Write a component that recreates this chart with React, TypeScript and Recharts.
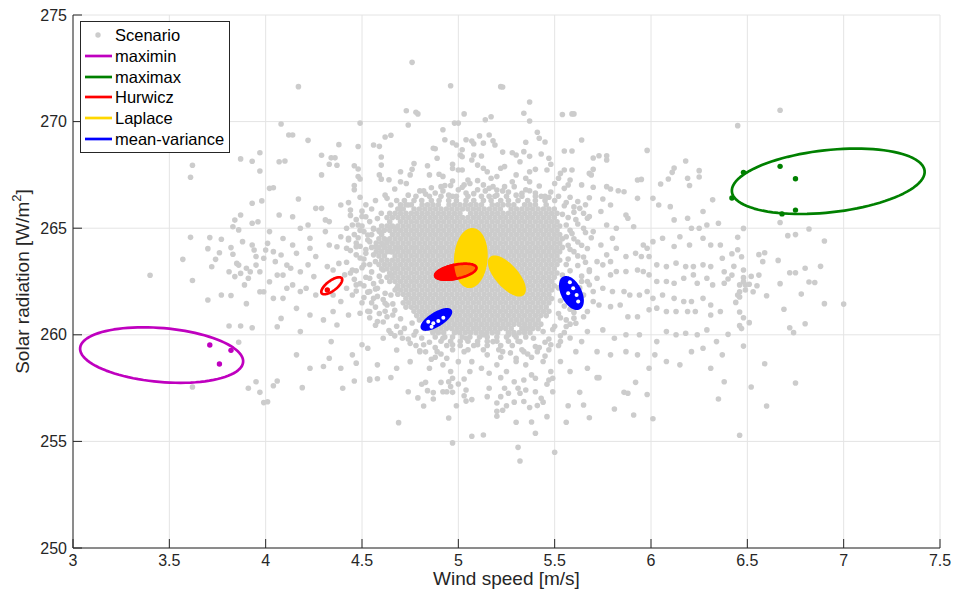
import React from 'react'
import { ScatterChart, Scatter, XAxis, YAxis, CartesianGrid, Legend } from 'recharts'

const FONT = '"Liberation Sans", Arial, Helvetica, sans-serif'
const AXIS = '#262626'
const GRAY = '#cccccc'
const MAGENTA = '#bf00bf'
const GREEN = '#008000'
const RED = '#ff0000'
const GOLD = '#ffd700'
const BLUE = '#0000ff'

const xTicks = [3, 3.5, 4, 4.5, 5, 5.5, 6, 6.5, 7, 7.5]
const yTicks = [250, 255, 260, 265, 270, 275]

// sparse scenarios as [wind, solar]
const outerLeft: [number, number][] = [
  [4.08, 269.89], [3.87, 268.25], [3.93, 268.14], [3.97, 268.54], [3.97, 267.68], [3.62, 267.95], [3.61, 267.39],
  [4.07, 268.12], [4.10, 268.15], [4.02, 266.87], [4.04, 266.9], [4.12, 269.37],
  [3.40, 262.79], [3.61, 264.57], [3.71, 264.56], [3.70, 264.04], [3.57, 263.54], [3.62, 262.55], [3.77, 264.48],
  [3.76, 263.85], [3.74, 263.54], [3.72, 263.19], [3.82, 264.09], [3.83, 263.78], [3.81, 262.96], [3.84, 262.73],
  [3.85, 263.35], [3.86, 263.27], [3.87, 262.88], [3.89, 262.34], [3.90, 263.12], [3.91, 262.65], [3.77, 261.87],
  [3.82, 261.84], [3.70, 261.63], [3.90, 261.46], [3.81, 260.41], [3.87, 260.41], [3.93, 260.33], [3.86, 259.65],
  [3.84, 265.38], [3.87, 265.62], [3.83, 265.07], [3.86, 264.92], [3.93, 266.17], [3.98, 266.28], [3.93, 265.23],
  [3.96, 265.3], [3.88, 264.37], [3.93, 264.21], [3.94, 263.98], [3.95, 263.67], [3.95, 263.27], [3.97, 262.96],
  [3.92, 262.96], [3.99, 263.59], [4.00, 263.98], [4.02, 264.84], [4.01, 264.29], [4.04, 263.9], [4.05, 263.43],
  [4.06, 262.8], [4.02, 262.49], [3.97, 262.02], [3.99, 262.02], [4.04, 261.71], [4.08, 260.77], [4.06, 260.38],
  [4.09, 261.71], [4.11, 262.18], [4.09, 262.8], [4.11, 263.27], [4.08, 263.74], [4.09, 264.52], [4.07, 265.62],
  [3.62, 257.55], [3.91, 257.49], [3.95, 257.8], [3.97, 257.3], [3.99, 256.82], [4.01, 256.86], [4.04, 257.61],
  [4.06, 257.83],
]

const outerTop: [number, number][] = [
  [4.17, 271.64], [4.76, 272.78], [4.96, 271.68], [5.22, 271.64], [5.23, 271.62], [4.73, 270.51], [4.78, 270.44],
  [4.79, 270.36], [4.49, 269.93], [4.74, 269.84], [5.03, 270.36], [4.98, 269.93], [5.00, 269.93], [5.14, 270.09],
  [5.17, 270.23], [4.14, 269.37], [4.22, 269.12], [4.38, 268.92], [4.48, 268.83], [4.56, 268.9], [4.59, 268.84],
  [4.62, 269.28], [4.65, 269.36], [4.29, 268.42], [4.33, 268.0], [4.34, 268.3], [4.36, 268.3], [4.37, 267.95],
  [4.29, 267.5], [4.46, 267.93], [4.48, 267.78], [4.48, 267.42], [4.49, 267.31], [4.46, 267.0], [4.46, 266.8],
  [4.60, 268.34], [4.60, 267.96], [4.59, 267.5], [4.60, 267.3], [4.64, 267.27], [4.70, 267.65], [4.70, 267.18],
  [4.73, 267.1], [4.76, 267.76], [4.77, 268.03], [4.75, 267.5], [4.67, 266.84], [4.82, 266.76], [4.84, 267.93],
  [4.87, 268.75], [4.88, 268.73], [4.89, 268.28], [4.85, 267.5], [4.90, 267.53], [4.92, 269.62], [4.93, 269.15],
  [4.92, 267.43], [4.91, 266.95], [4.93, 267.0], [4.97, 269.01], [4.99, 268.9], [5.02, 268.68], [5.01, 268.43],
  [5.02, 268.35], [4.97, 268.0], [4.97, 267.8], [5.0, 267.73], [5.02, 267.73], [4.97, 267.21], [4.96, 267.0],
  [5.04, 269.15], [5.07, 269.09], [5.08, 268.96], [5.11, 269.33], [5.16, 269.37], [5.18, 269.1], [5.19, 268.9],
  [5.13, 268.99], [5.07, 268.2], [5.08, 268.43], [5.12, 268.39], [5.10, 267.96], [5.13, 267.81], [5.15, 267.65],
  [5.23, 268.57], [5.22, 267.81], [5.24, 267.89], [5.20, 267.42], [5.17, 267.34], [5.05, 267.26], [5.06, 267.1],
  [5.03, 267.03], [5.10, 267.23], [5.13, 267.03], [5.16, 266.87], [5.20, 266.79], [5.24, 266.95],
  [5.37, 270.92], [5.34, 270.39], [5.37, 270.03], [5.54, 270.33], [5.59, 270.36], [5.60, 270.36], [5.41, 269.5],
  [5.42, 269.22], [5.45, 269.04], [5.35, 269.03], [5.64, 269.14], [5.55, 268.62], [5.59, 268.62], [5.70, 268.29],
  [5.73, 268.4], [5.77, 268.4], [5.77, 268.2], [5.98, 268.65], [6.18, 268.15], [6.12, 267.82], [6.11, 267.62],
  [6.09, 267.31], [6.05, 267.07], [6.25, 267.7], [6.25, 267.4], [6.19, 267.34], [6.20, 267.0], [5.93, 267.26],
  [5.95, 267.29], [5.28, 268.54], [5.30, 268.43], [5.34, 268.59], [5.32, 268.12], [5.37, 268.37], [5.43, 268.48],
  [5.47, 268.28], [5.48, 268.0], [5.46, 267.73], [5.40, 267.76], [5.37, 267.65], [5.35, 267.34], [5.30, 267.5],
  [5.28, 267.18], [5.29, 266.95], [5.37, 267.18], [5.42, 266.98], [5.37, 266.76], [5.33, 266.64], [5.53, 267.57],
  [5.52, 267.34], [5.55, 267.73], [5.59, 267.73], [5.58, 267.26], [5.57, 267.03], [5.55, 266.87], [5.50, 267.1],
  [5.64, 267.03], [5.70, 266.92], [5.77, 266.95], [5.79, 266.84], [5.83, 266.76], [5.86, 266.71], [5.68, 267.57],
  [5.69, 267.5], [5.70, 267.76],
]

const outerRight: [number, number][] = [
  [6.45, 269.81], [6.67, 270.53], [6.67, 265.27], [6.48, 264.99], [6.45, 264.57], [6.71, 264.65], [6.75, 264.7],
  [6.82, 264.96], [6.90, 264.4], [6.45, 263.99], [6.47, 263.66], [6.42, 263.8], [6.56, 263.76], [6.59, 263.85],
  [6.58, 263.43], [6.66, 263.49], [6.43, 263.21], [6.48, 263.04], [6.38, 262.96], [6.42, 262.8], [6.40, 262.62],
  [6.80, 263.12], [6.88, 263.21], [6.72, 262.91], [6.75, 262.91], [6.56, 262.8], [6.52, 262.74], [6.48, 262.68],
  [6.48, 262.49], [6.46, 262.34], [6.49, 262.34], [6.51, 262.37], [6.55, 262.3], [6.49, 262.1], [6.46, 262.02],
  [6.45, 261.87], [6.53, 262.02], [6.60, 261.83], [6.67, 262.4], [6.82, 262.48], [6.85, 262.45], [6.78, 261.91],
  [6.44, 261.52], [6.46, 261.77], [6.69, 261.2], [6.90, 261.46], [7.00, 261.44], [6.46, 261.07], [6.48, 260.8],
  [6.51, 260.57], [6.46, 260.43], [6.47, 260.29], [6.72, 260.33], [6.74, 260.1], [6.80, 260.52], [6.40, 260.02],
  [6.48, 259.47], [6.59, 258.64], [6.52, 257.55], [6.75, 257.74], [6.60, 256.66], [6.46, 255.29], [6.38, 257.8],
  [6.35, 256.99],
]

const outerBottom: [number, number][] = [
  [4.19, 257.52], [4.40, 257.49], [4.46, 257.83], [4.54, 257.93], [4.54, 257.87], [4.58, 257.94], [4.65, 258.0],
  [4.74, 257.33], [4.79, 257.04], [4.82, 256.66], [4.69, 255.88], [4.81, 257.68], [4.83, 257.77], [4.84, 257.38],
  [4.87, 257.29], [4.87, 256.99], [4.91, 257.77], [4.92, 257.33], [4.94, 257.33], [4.95, 257.8], [4.96, 257.57],
  [4.97, 257.96], [4.97, 257.3], [4.99, 256.67], [5.00, 257.69], [4.95, 256.1], [4.97, 254.93], [5.03, 257.14],
  [5.04, 257.41], [5.07, 256.96], [5.03, 257.93], [5.04, 256.89], [5.07, 255.24], [5.13, 255.3], [5.15, 257.1],
  [5.16, 257.49], [5.20, 256.8], [5.20, 256.41], [5.20, 256.18], [5.23, 256.46], [5.22, 257.1], [5.24, 257.49],
  [5.26, 257.26], [5.22, 257.99], [5.25, 256.67], [5.29, 257.8], [5.31, 257.49], [5.34, 257.88], [5.35, 257.41],
  [5.32, 257.26], [5.40, 257.96], [5.40, 257.33], [5.43, 257.02], [5.44, 256.84], [5.41, 256.68], [5.37, 256.59],
  [5.34, 256.87], [5.29, 256.84], [5.47, 257.88], [5.46, 257.68], [5.49, 257.33], [5.49, 257.96], [5.30, 255.9],
  [5.38, 255.91], [5.46, 256.16], [5.40, 255.38], [5.31, 254.72], [5.32, 254.08], [5.50, 254.49], [5.56, 255.9],
  [5.57, 256.67], [5.63, 257.3], [5.65, 256.71], [5.68, 256.11], [5.72, 257.99], [5.73, 257.99], [5.81, 256.52],
  [5.86, 257.3], [5.88, 257.26], [5.91, 256.24], [5.92, 257.77], [5.98, 257.2], [6.01, 256.06],
]

const midLeft: [number, number][] = [
  [4.17, 266.37], [4.26, 265.93], [4.29, 265.93], [4.39, 266.09], [4.44, 265.85], [4.52, 265.54], [4.48, 265.15],
  [4.54, 265.31], [4.63, 266.4], [4.65, 266.09], [4.60, 265.7], [4.70, 265.93], [4.74, 266.09], [4.14, 265.54],
  [4.18, 265.0], [4.22, 265.15], [4.23, 264.53], [4.31, 265.39], [4.33, 265.31], [4.31, 264.84], [4.39, 264.6],
  [4.43, 264.53], [4.45, 265.15], [4.51, 264.84], [4.53, 264.68], [4.56, 265.0], [4.59, 264.84], [4.65, 265.07],
  [4.68, 265.0], [4.63, 264.37], [4.14, 264.21], [4.16, 263.82], [4.23, 264.06], [4.26, 263.67], [4.33, 264.21],
  [4.37, 264.13], [4.42, 264.06], [4.47, 264.13], [4.52, 263.82], [4.54, 264.37], [4.57, 264.13], [4.61, 264.21],
  [4.65, 263.9], [4.68, 264.06], [4.13, 263.12], [4.18, 262.96], [4.22, 263.28], [4.25, 262.73], [4.32, 263.2],
  [4.35, 263.04], [4.38, 263.35], [4.41, 262.81], [4.45, 263.04], [4.51, 263.28], [4.54, 262.65], [4.57, 263.43],
  [4.61, 263.04], [4.65, 262.81], [4.68, 263.12], [4.14, 262.34], [4.18, 262.03], [4.21, 262.18], [4.26, 261.87],
  [4.35, 261.87], [4.39, 261.56], [4.42, 262.18], [4.45, 261.87], [4.47, 262.34], [4.54, 262.03], [4.56, 261.71],
  [4.58, 262.18], [4.62, 261.48], [4.65, 261.87], [4.68, 262.18], [4.16, 261.24], [4.23, 260.93], [4.30, 260.7],
  [4.35, 261.09], [4.37, 260.46], [4.43, 260.93], [4.49, 261.01], [4.54, 261.09], [4.58, 260.62], [4.63, 261.4],
  [4.66, 260.93], [4.18, 260.15], [4.34, 259.68], [4.50, 259.53], [4.53, 259.37], [4.61, 259.84], [4.65, 260.07],
  [4.68, 259.29], [4.71, 259.84], [4.77, 259.99], [4.80, 259.21], [4.75, 258.74], [4.68, 258.43], [4.58, 258.59],
  [4.45, 259.06], [4.47, 258.67], [4.39, 258.43], [4.30, 258.51], [4.33, 258.9], [4.23, 258.43], [4.16, 259.06],
]

const midRight: [number, number][] = [
  [5.68, 266.43], [5.75, 266.37], [5.79, 266.09], [5.87, 265.62], [5.88, 265.47], [5.91, 265.07], [5.93, 266.4],
  [6.01, 266.4], [6.04, 266.09], [6.10, 266.01], [6.12, 265.39], [6.19, 265.47], [6.27, 265.78], [6.32, 266.33],
  [6.21, 265.0], [6.25, 265.0], [6.29, 265.15], [6.35, 265.23], [5.82, 265.0], [5.96, 264.21], [5.98, 264.06],
  [6.01, 264.37], [6.06, 264.53], [6.12, 264.14], [6.15, 264.6], [6.20, 264.21], [6.27, 264.53], [6.31, 264.21],
  [6.36, 264.21], [5.87, 263.67], [5.92, 263.82], [5.95, 263.67], [5.99, 263.67], [6.03, 263.28], [6.08, 263.2],
  [6.13, 263.36], [6.18, 263.2], [6.22, 263.2], [6.27, 263.28], [6.31, 263.2], [6.37, 263.59], [5.79, 262.81],
  [5.82, 262.97], [5.87, 262.97], [5.93, 263.04], [5.96, 262.97], [5.99, 262.81], [6.03, 262.5], [6.08, 262.5],
  [6.12, 262.42], [6.17, 262.65], [6.22, 262.81], [6.24, 262.42], [6.29, 262.65], [6.32, 262.34], [6.38, 262.42],
  [5.75, 262.18], [5.80, 262.03], [5.86, 262.03], [5.89, 261.87], [5.94, 261.87], [5.98, 262.03], [6.01, 261.71],
  [6.06, 261.87], [6.12, 261.71], [6.17, 261.56], [6.21, 261.56], [6.27, 261.71], [6.31, 261.4], [5.70, 261.56],
  [5.73, 261.4], [5.79, 261.32], [5.84, 261.4], [5.88, 260.85], [5.93, 260.85], [5.99, 261.17], [6.03, 261.25],
  [6.08, 261.09], [6.13, 261.09], [6.19, 261.09], [6.23, 261.09], [6.31, 260.93], [6.36, 261.09], [5.75, 260.23],
  [5.81, 259.84], [5.87, 260.0], [5.94, 260.0], [6.03, 259.68], [6.08, 260.15], [6.13, 260.0], [6.18, 260.07],
  [6.24, 260.0], [6.29, 260.23], [6.34, 259.68], [5.79, 259.06], [5.87, 259.21], [5.93, 259.06], [5.99, 258.43],
  [6.02, 259.06], [6.08, 258.75], [6.15, 258.59], [6.21, 259.21], [6.27, 259.37], [6.37, 259.06], [6.31, 258.43],
  [5.63, 265.93], [5.67, 265.47], [5.70, 264.84], [5.74, 264.21], [5.77, 263.75], [5.72, 263.43], [5.68, 262.97],
  [5.75, 263.28], [5.79, 263.43], [5.82, 264.06], [5.80, 264.53], [5.77, 265.15], [5.74, 265.78], [5.67, 262.5],
  [5.70, 262.03], [5.65, 261.87], [5.61, 261.4], [5.67, 261.09], [5.60, 260.78], [5.72, 262.65],
]

const midBottom: [number, number][] = [
  [4.82, 259.53], [4.87, 260.15], [4.89, 259.21], [4.92, 259.84], [4.94, 258.9], [4.97, 259.53], [4.99, 260.15],
  [5.03, 259.21], [5.04, 259.84], [5.07, 258.74], [5.10, 259.53], [5.13, 260.0], [5.15, 259.06], [5.18, 259.68],
  [5.20, 258.59], [5.23, 259.21], [5.26, 260.0], [4.85, 258.43], [4.96, 258.28], [5.06, 258.28], [5.16, 258.2],
  [5.25, 258.28], [5.00, 258.74], [5.12, 258.43], [4.92, 258.59], [5.29, 260.0], [5.32, 259.68], [5.35, 260.31],
  [5.39, 259.84], [5.34, 259.21], [5.41, 259.21], [5.44, 260.15], [5.48, 259.53], [5.53, 259.68], [5.56, 260.39],
  [5.61, 260.54], [5.64, 259.68], [5.67, 260.15], [5.72, 259.21], [5.61, 259.21], [5.53, 258.75], [5.44, 258.75],
  [5.35, 258.59], [5.30, 258.75], [5.67, 258.43], [5.58, 258.28], [5.48, 258.28], [5.38, 258.12],
]

// the thinner ring just outside the dense centre
const fringe: [number, number][] = [
  [4.50, 265.8], [4.47, 265.4], [4.55, 265.9], [4.49, 264.9], [4.55, 264.7], [4.47, 264.3], [4.52, 264.0],
  [4.49, 263.6], [4.54, 263.3], [4.47, 263.0], [4.52, 262.7], [4.56, 262.4], [4.49, 262.4], [4.53, 262.0],
  [4.58, 261.8], [4.50, 261.5], [4.57, 261.3], [4.62, 261.1], [4.54, 260.8], [4.61, 260.6], [4.68, 260.4],
  [4.64, 260.2], [4.70, 260.1], [4.74, 259.8], [4.78, 259.5], [4.83, 259.2], [4.88, 258.95],
  [5.56, 266.2], [5.60, 266.0], [5.65, 265.7], [5.57, 265.5], [5.62, 265.2], [5.58, 264.9], [5.66, 264.8],
  [5.60, 264.5], [5.64, 264.2], [5.58, 264.0], [5.62, 263.7], [5.56, 263.3], [5.66, 263.4], [5.54, 262.8],
  [5.64, 262.5], [5.52, 262.2], [5.63, 262.2], [5.53, 261.6], [5.58, 261.2], [5.52, 261.0], [5.56, 260.7],
  [5.50, 260.4], [5.55, 260.1], [5.47, 259.8], [5.52, 259.5], [5.42, 259.4], [5.36, 259.1], [5.45, 259.0],
  [5.30, 258.9], [4.80, 266.75], [4.88, 266.65], [5.00, 266.8], [5.08, 266.62], [5.14, 266.75], [5.26, 266.7],
  [5.40, 266.65], [5.47, 266.45], [4.95, 266.55], [5.20, 266.55],
  [4.43, 266.2], [4.49, 266.45], [4.52, 266.1], [4.57, 266.3], [4.44, 265.6], [4.50, 265.55], [4.58, 265.45],
  [4.42, 265.0], [4.46, 264.7], [4.50, 265.1], [4.56, 264.95], [4.43, 264.45], [4.48, 264.55], [4.53, 264.45],
  [4.44, 263.95], [4.49, 264.15], [4.55, 264.1], [4.42, 263.4], [4.47, 263.75], [4.51, 263.55], [4.56, 263.75],
  [4.44, 262.9], [4.50, 263.15], [4.55, 262.95], [4.59, 262.75], [4.46, 262.6], [4.51, 262.3], [4.60, 262.5],
  [4.47, 262.05], [4.57, 262.15], [4.62, 261.95], [4.51, 261.75], [4.55, 261.5], [4.61, 261.65], [4.66, 261.45],
  [4.53, 261.1], [4.59, 261.0], [4.67, 261.15], [4.70, 260.75], [4.63, 260.85], [4.57, 260.45], [4.72, 260.3],
  [4.76, 260.55], [4.78, 260.15], [4.67, 259.95], [4.81, 259.85], [4.75, 259.6], [4.85, 259.65], [4.88, 259.4],
  [4.80, 259.25], [4.91, 259.1], [4.86, 258.85],
  [5.52, 266.5], [5.58, 266.45], [5.62, 266.25], [5.55, 266.05], [5.66, 266.1], [5.60, 265.75], [5.54, 265.65],
  [5.68, 265.55], [5.61, 265.4], [5.56, 265.15], [5.65, 265.0], [5.59, 264.75], [5.69, 264.55], [5.56, 264.6],
  [5.62, 264.35], [5.67, 264.05], [5.57, 264.2], [5.60, 263.9], [5.65, 263.65], [5.57, 263.55], [5.62, 263.25],
  [5.68, 263.05], [5.58, 263.0], [5.64, 262.75], [5.54, 262.55], [5.68, 262.35], [5.55, 262.05], [5.63, 261.75],
  [5.55, 261.35], [5.60, 261.05], [5.65, 260.85], [5.53, 260.8], [5.58, 260.5], [5.49, 260.25], [5.53, 259.95],
  [5.45, 259.65], [5.58, 259.85], [5.40, 259.45], [5.33, 259.3], [5.47, 259.3], [5.27, 259.15], [5.38, 258.95],
  [5.22, 258.95], [4.74, 266.55], [4.83, 266.6], [4.92, 266.75], [4.97, 266.5], [5.04, 266.65], [5.10, 266.8],
  [5.16, 266.5], [5.23, 266.75], [5.30, 266.55], [5.35, 266.8], [5.43, 266.5], [5.48, 266.7], [4.68, 266.3],
  [4.62, 266.55], [4.86, 266.9], [5.02, 266.92], [5.18, 266.95],
]

// the dense centre of the cloud, row by row: [solar, winds in that row]
const coreRows: [number, number[]][] = [
  [266.5, [4.78, 4.85, 4.91, 4.99, 5.05, 5.12, 5.19, 5.25, 5.33, 5.4, 5.45]],
  [266.3, [4.72, 4.77, 4.81, 4.86, 4.9, 4.95, 4.99, 5.04, 5.08, 5.13, 5.17, 5.22, 5.26, 5.31, 5.36, 5.4, 5.45, 5.5]],
  [266.1, [4.7, 4.728, 4.756, 4.812, 4.84, 4.868, 4.896, 4.952, 4.98, 5.008, 5.036, 5.064, 5.092, 5.12, 5.176, 5.204, 5.232, 5.26, 5.288, 5.344, 5.372, 5.4, 5.456]],
  [265.9, [4.686, 4.714, 4.77, 4.798, 4.826, 4.854, 4.882, 4.91, 4.938, 4.966, 4.994, 5.022, 5.05, 5.078, 5.106, 5.134, 5.162, 5.19, 5.218, 5.274, 5.302, 5.33, 5.358, 5.386, 5.414, 5.442, 5.47, 5.498]],
  [265.7, [4.644, 4.672, 4.7, 4.728, 4.756, 4.784, 4.812, 4.84, 4.868, 4.896, 4.924, 4.952, 4.98, 5.008, 5.064, 5.092, 5.12, 5.148, 5.176, 5.204, 5.232, 5.26, 5.288, 5.316, 5.344, 5.372, 5.4, 5.428, 5.456, 5.484, 5.512]],
  [265.5, [4.63, 4.658, 4.686, 4.714, 4.742, 4.77, 4.798, 4.826, 4.854, 4.882, 4.91, 4.938, 4.966, 4.994, 5.022, 5.05, 5.078, 5.106, 5.134, 5.162, 5.19, 5.218, 5.246, 5.274, 5.302, 5.33, 5.358, 5.386, 5.414, 5.442, 5.47, 5.498]],
  [265.3, [4.644, 4.7, 4.728, 4.756, 4.784, 4.812, 4.84, 4.868, 4.896, 4.924, 4.952, 4.98, 5.008, 5.036, 5.064, 5.092, 5.12, 5.148, 5.176, 5.204, 5.232, 5.26, 5.288, 5.316, 5.344, 5.372, 5.4, 5.428, 5.456, 5.484, 5.512]],
  [265.1, [4.602, 4.63, 4.658, 4.686, 4.714, 4.742, 4.77, 4.798, 4.826, 4.854, 4.882, 4.91, 4.938, 4.966, 4.994, 5.022, 5.05, 5.078, 5.106, 5.134, 5.162, 5.19, 5.218, 5.246, 5.274, 5.302, 5.33, 5.358, 5.386, 5.414, 5.442, 5.47, 5.498, 5.526]],
  [264.9, [4.588, 4.616, 4.644, 4.672, 4.7, 4.728, 4.756, 4.784, 4.812, 4.84, 4.868, 4.896, 4.924, 4.952, 4.98, 5.008, 5.036, 5.064, 5.092, 5.12, 5.148, 5.176, 5.204, 5.232, 5.26, 5.288, 5.316, 5.344, 5.372, 5.4, 5.428, 5.456, 5.484, 5.512]],
  [264.7, [4.602, 4.658, 4.686, 4.714, 4.742, 4.77, 4.798, 4.826, 4.854, 4.882, 4.91, 4.938, 4.966, 4.994, 5.022, 5.05, 5.078, 5.106, 5.134, 5.162, 5.19, 5.218, 5.246, 5.274, 5.302, 5.33, 5.358, 5.386, 5.414, 5.442, 5.47, 5.498, 5.526]],
  [264.5, [4.588, 4.616, 4.644, 4.672, 4.7, 4.728, 4.756, 4.784, 4.812, 4.84, 4.868, 4.896, 4.924, 4.952, 4.98, 5.008, 5.036, 5.064, 5.092, 5.12, 5.148, 5.176, 5.204, 5.232, 5.26, 5.288, 5.316, 5.344, 5.372, 5.4, 5.428, 5.456, 5.484, 5.512, 5.54]],
  [264.3, [4.574, 4.602, 4.63, 4.658, 4.686, 4.714, 4.742, 4.77, 4.798, 4.826, 4.854, 4.882, 4.91, 4.938, 4.966, 4.994, 5.022, 5.05, 5.078, 5.106, 5.134, 5.162, 5.19, 5.218, 5.246, 5.274, 5.302, 5.33, 5.358, 5.386, 5.414, 5.442, 5.47, 5.498, 5.526]],
  [264.1, [4.588, 4.616, 4.644, 4.672, 4.7, 4.728, 4.756, 4.784, 4.812, 4.84, 4.868, 4.896, 4.924, 4.952, 4.98, 5.008, 5.036, 5.064, 5.092, 5.12, 5.148, 5.176, 5.204, 5.232, 5.26, 5.288, 5.316, 5.344, 5.372, 5.4, 5.428, 5.456, 5.484, 5.512, 5.54]],
  [263.9, [4.574, 4.602, 4.63, 4.658, 4.686, 4.714, 4.742, 4.77, 4.798, 4.826, 4.854, 4.882, 4.91, 4.938, 4.966, 4.994, 5.022, 5.05, 5.078, 5.106, 5.134, 5.162, 5.19, 5.218, 5.246, 5.274, 5.302, 5.33, 5.358, 5.386, 5.414, 5.442, 5.47, 5.498, 5.526]],
  [263.7, [4.588, 4.616, 4.672, 4.7, 4.728, 4.756, 4.784, 4.812, 4.84, 4.868, 4.896, 4.924, 4.952, 4.98, 5.008, 5.036, 5.064, 5.092, 5.12, 5.148, 5.176, 5.204, 5.232, 5.26, 5.288, 5.316, 5.344, 5.372, 5.4, 5.428, 5.456, 5.484, 5.512]],
  [263.5, [4.602, 4.63, 4.658, 4.686, 4.714, 4.742, 4.77, 4.798, 4.826, 4.854, 4.882, 4.91, 4.938, 4.966, 4.994, 5.022, 5.05, 5.078, 5.106, 5.134, 5.162, 5.19, 5.218, 5.246, 5.274, 5.302, 5.33, 5.358, 5.386, 5.414, 5.442, 5.47, 5.498, 5.526]],
  [263.3, [4.588, 4.616, 4.644, 4.672, 4.7, 4.728, 4.756, 4.784, 4.812, 4.84, 4.868, 4.896, 4.924, 4.952, 4.98, 5.008, 5.036, 5.064, 5.092, 5.12, 5.148, 5.176, 5.204, 5.232, 5.26, 5.288, 5.316, 5.344, 5.372, 5.4, 5.428, 5.456, 5.484, 5.512]],
  [263.1, [4.602, 4.63, 4.658, 4.686, 4.714, 4.742, 4.77, 4.798, 4.826, 4.854, 4.882, 4.91, 4.938, 4.966, 4.994, 5.022, 5.05, 5.078, 5.106, 5.134, 5.162, 5.19, 5.218, 5.246, 5.274, 5.302, 5.33, 5.358, 5.386, 5.414, 5.442, 5.47, 5.498]],
  [262.9, [4.644, 4.672, 4.7, 4.728, 4.756, 4.784, 4.812, 4.84, 4.868, 4.896, 4.924, 4.952, 4.98, 5.008, 5.036, 5.064, 5.092, 5.12, 5.148, 5.176, 5.204, 5.232, 5.26, 5.288, 5.316, 5.344, 5.372, 5.4, 5.428, 5.456, 5.484, 5.512]],
  [262.7, [4.63, 4.658, 4.686, 4.714, 4.742, 4.77, 4.798, 4.826, 4.854, 4.882, 4.91, 4.938, 4.966, 4.994, 5.022, 5.05, 5.078, 5.106, 5.134, 5.162, 5.19, 5.218, 5.246, 5.274, 5.302, 5.33, 5.358, 5.386, 5.414, 5.442, 5.47, 5.498]],
  [262.5, [4.644, 4.672, 4.7, 4.728, 4.756, 4.784, 4.812, 4.84, 4.868, 4.896, 4.924, 4.952, 4.98, 5.008, 5.036, 5.064, 5.092, 5.12, 5.148, 5.176, 5.204, 5.232, 5.26, 5.288, 5.316, 5.344, 5.372, 5.4, 5.428, 5.456, 5.484]],
  [262.3, [4.686, 4.714, 4.742, 4.77, 4.798, 4.826, 4.854, 4.882, 4.91, 4.938, 4.966, 4.994, 5.022, 5.05, 5.078, 5.106, 5.134, 5.162, 5.19, 5.218, 5.246, 5.274, 5.302, 5.33, 5.358, 5.386, 5.414, 5.442, 5.47, 5.498]],
  [262.1, [4.672, 4.7, 4.728, 4.756, 4.784, 4.812, 4.84, 4.868, 4.896, 4.924, 4.952, 4.98, 5.008, 5.036, 5.064, 5.092, 5.12, 5.148, 5.176, 5.204, 5.232, 5.26, 5.288, 5.316, 5.344, 5.372, 5.4, 5.428, 5.456, 5.484]],
  [261.9, [4.686, 4.714, 4.742, 4.77, 4.798, 4.826, 4.854, 4.882, 4.91, 4.938, 4.966, 4.994, 5.022, 5.05, 5.078, 5.106, 5.134, 5.162, 5.19, 5.218, 5.246, 5.274, 5.302, 5.33, 5.358, 5.386, 5.414, 5.442, 5.47]],
  [261.7, [4.728, 4.756, 4.784, 4.812, 4.84, 4.868, 4.896, 4.924, 4.952, 4.98, 5.008, 5.036, 5.064, 5.092, 5.12, 5.148, 5.176, 5.204, 5.232, 5.26, 5.288, 5.316, 5.344, 5.372, 5.4, 5.428, 5.456, 5.484]],
  [261.5, [4.714, 4.742, 4.77, 4.798, 4.826, 4.854, 4.882, 4.91, 4.938, 4.966, 4.994, 5.022, 5.05, 5.078, 5.106, 5.134, 5.162, 5.19, 5.218, 5.246, 5.274, 5.302, 5.33, 5.358, 5.386, 5.414, 5.442, 5.47]],
  [261.3, [4.728, 4.756, 4.784, 4.812, 4.84, 4.868, 4.896, 4.924, 4.952, 4.98, 5.008, 5.036, 5.064, 5.092, 5.12, 5.148, 5.176, 5.204, 5.232, 5.26, 5.288, 5.316, 5.344, 5.372, 5.4, 5.428, 5.456]],
  [261.1, [4.77, 4.798, 4.826, 4.854, 4.882, 4.91, 4.938, 4.966, 4.994, 5.022, 5.05, 5.078, 5.106, 5.134, 5.162, 5.19, 5.218, 5.246, 5.274, 5.302, 5.33, 5.358, 5.386, 5.414, 5.442, 5.47]],
  [260.9, [4.784, 4.812, 4.84, 4.868, 4.896, 4.924, 4.952, 4.98, 5.008, 5.036, 5.064, 5.092, 5.12, 5.148, 5.176, 5.204, 5.232, 5.26, 5.288, 5.316, 5.344, 5.372, 5.4, 5.428, 5.456]],
  [260.7, [4.798, 4.826, 4.854, 4.882, 4.91, 4.938, 4.966, 4.994, 5.022, 5.05, 5.078, 5.106, 5.134, 5.162, 5.19, 5.218, 5.246, 5.274, 5.302, 5.33, 5.358, 5.386, 5.414]],
  [260.5, [4.84, 4.868, 4.896, 4.924, 4.952, 4.98, 5.008, 5.036, 5.064, 5.092, 5.12, 5.148, 5.176, 5.204, 5.232, 5.26, 5.288, 5.316, 5.344, 5.372, 5.4, 5.428]],
  [260.3, [4.826, 4.854, 4.882, 4.91, 4.938, 4.966, 4.994, 5.022, 5.05, 5.078, 5.106, 5.134, 5.162, 5.19, 5.218, 5.246, 5.274, 5.33, 5.358, 5.386, 5.414]],
  [260.1, [4.868, 4.896, 4.924, 4.98, 5.008, 5.036, 5.064, 5.092, 5.12, 5.148, 5.176, 5.204, 5.26, 5.288, 5.316, 5.344, 5.372]],
  [259.9, [4.88, 4.93, 4.97, 5.02, 5.06, 5.11, 5.15, 5.2, 5.25, 5.3, 5.35]],
  [259.7, [4.91, 4.96, 5.01, 5.05, 5.1, 5.15, 5.2, 5.26, 5.31]],
  [259.5, [4.94, 5.01, 5.08, 5.15, 5.22, 5.28]],
  [259.3, [4.97, 5.05, 5.13, 5.21]],
]

// selected scenarios drawn in the criterion colour
const maximinPicks: [number, number][] = [[3.71, 259.52], [3.82, 259.27], [3.76, 258.63]]
const maximaxPicks: [number, number][] = [[6.48, 267.62], [6.67, 267.9], [6.75, 267.32], [6.42, 266.42], [6.68, 265.67], [6.75, 265.85]]
const hurwiczPicks: [number, number][] = [[4.32, 262.1]]
// blank specks left inside the mean-variance ellipses
const mvSpecks: [number, number][] = [
  [4.844, 260.61], [4.87, 260.54], [4.896, 260.65], [4.922, 260.8], [4.861, 260.38],
  [5.579, 262.46], [5.596, 262.18], [5.57, 261.95], [5.614, 261.87], [5.622, 261.56],
]

// confidence ellipses: centre, and the two half-axis vectors in data units
type Ell = { name: string; c: [number, number]; u: [number, number]; v: [number, number]; stroke: string; fill: string; alpha?: number }
const hurwiczBig = { c: [4.987, 262.96] as [number, number], u: [0.107, 0.197] as [number, number], v: [0.0072, -0.32] as [number, number] }
const ellipses: Ell[] = [
  { name: 'maximin', c: [3.46, 259.05], u: [0.423, -0.33], v: [-0.012, -1.26], stroke: MAGENTA, fill: 'none' },
  { name: 'maximax', c: [6.92, 267.2], u: [0.5, 0.5], v: [0.02, -1.45], stroke: GREEN, fill: 'none' },
  { name: 'laplace-b', c: [5.252, 262.76], u: [0.083, -0.844], v: [-0.039, -0.314], stroke: GOLD, fill: GOLD },
  { name: 'hurwicz-b', ...hurwiczBig, stroke: RED, fill: RED },
  { name: 'laplace-a', c: [5.065, 263.6], u: [0.0104, 1.346], v: [0.08, -0.05], stroke: GOLD, fill: GOLD },
  { name: 'hurwicz-b-over', ...hurwiczBig, stroke: RED, fill: RED, alpha: 0.45 },
  { name: 'hurwicz-a', c: [4.343, 262.3], u: [0.0519, 0.352], v: [0.0156, -0.188], stroke: RED, fill: '#ffffff' },
  { name: 'mv-a', c: [4.886, 260.72], u: [0.0737, 0.408], v: [0.016, -0.24], stroke: BLUE, fill: BLUE },
  { name: 'mv-b', c: [5.587, 261.96], u: [0.04, -0.71], v: [0.0415, 0.19], stroke: BLUE, fill: BLUE },
]

const legendItems = [
  { label: 'Scenario', color: GRAY, dot: true },
  { label: 'maximin', color: MAGENTA, dot: false },
  { label: 'maximax', color: GREEN, dot: false },
  { label: 'Hurwicz', color: RED, dot: false },
  { label: 'Laplace', color: GOLD, dot: false },
  { label: 'mean-variance', color: BLUE, dot: false },
]

const toPts = (arr: [number, number][]) => arr.map(([x, y]) => ({ x, y }))

const scenarios = [
  ...toPts(outerLeft), ...toPts(outerTop), ...toPts(outerRight), ...toPts(outerBottom),
  ...toPts(midLeft), ...toPts(midRight), ...toPts(midBottom), ...toPts(fringe),
  ...coreRows.flatMap(([y, xs]) => xs.map((x) => ({ x, y }))),
]

function outline(e: Ell) {
  const pts = []
  for (let k = 0; k < 96; k++) {
    const t = (k / 96) * Math.PI * 2
    pts.push({
      x: e.c[0] + Math.cos(t) * e.u[0] + Math.sin(t) * e.v[0],
      y: e.c[1] + Math.cos(t) * e.u[1] + Math.sin(t) * e.v[1],
    })
  }
  return pts
}

const closedPath = (e: Ell) => (props: any) => {
  const pts: { x: number; y: number }[] = props.points || []
  const d = pts.map((p, i) => `${i ? 'L' : 'M'}${p.x},${p.y}`).join('') + 'Z'
  return (
    <path d={d} fill={e.fill} fillOpacity={e.alpha ?? 1} stroke={e.stroke} strokeWidth={2.7} strokeLinejoin="round" />
  )
}

const dot = (r: number, fill: string) => (p: any) => <circle cx={p.cx} cy={p.cy} r={r} fill={fill} />
const noShape = () => <g />

function LegendBox() {
  return (
    <div style={{ border: `1px solid ${AXIS}`, background: '#fff', width: 148, padding: '3px 0', fontFamily: FONT, fontSize: 16.5, color: '#000' }}>
      {legendItems.map((it) => (
        <div key={it.label} style={{ display: 'flex', alignItems: 'center', height: 20.7 }}>
          <svg width={34} height={10} style={{ flex: 'none' }}>
            {it.dot ? (
              <circle cx={17} cy={5} r={2.7} fill={it.color} />
            ) : (
              <line x1={4} x2={31} y1={5} y2={5} stroke={it.color} strokeWidth={2.7} />
            )}
          </svg>
          <span style={{ lineHeight: '20px' }}>{it.label}</span>
        </div>
      ))}
    </div>
  )
}

const tickStyle = { fontSize: 16, fill: AXIS, fontFamily: FONT }

export default function App() {
  return (
    <div style={{ position: 'absolute', left: 0, top: 0, background: '#fff' }}>
      <ScatterChart width={957} height={595} margin={{ top: 15, right: 17, bottom: 17, left: 13 }}>
        <CartesianGrid stroke="#e4e4e4" strokeWidth={1} />
        <XAxis
          dataKey="x"
          type="number"
          domain={[3, 7.5]}
          ticks={xTicks}
          allowDataOverflow
          height={30}
          stroke={AXIS}
          tickSize={-9}
          tickMargin={16}
          tick={tickStyle}
          label={{
            content: ({ viewBox }: any) => (
              <text x={viewBox.x + viewBox.width / 2} y={viewBox.y + 37} textAnchor="middle" fontSize={19} fill={AXIS} fontFamily={FONT}>
                Wind speed [m/s]
              </text>
            ),
          }}
        />
        <XAxis xAxisId="top" orientation="top" type="number" domain={[3, 7.5]} ticks={xTicks} allowDataOverflow height={0} stroke={AXIS} tickSize={-9} tick={false} />
        <YAxis
          dataKey="y"
          type="number"
          domain={[250, 275]}
          ticks={yTicks}
          allowDataOverflow
          width={60}
          stroke={AXIS}
          tickSize={-9}
          tickMargin={15}
          tick={tickStyle}
          label={{
            content: ({ viewBox }: any) => {
              const x = viewBox.x + 16
              const y = viewBox.y + viewBox.height / 2
              return (
                <text x={x} y={y} transform={`rotate(-90, ${x}, ${y})`} textAnchor="middle" fontSize={19} fill={AXIS} fontFamily={FONT}>
                  Solar radiation [W/m<tspan dy={-8} fontSize={13}>2</tspan><tspan dy={8}>]</tspan>
                </text>
              )
            },
          }}
        />
        <YAxis yAxisId="right" orientation="right" type="number" domain={[250, 275]} ticks={yTicks} allowDataOverflow width={0} stroke={AXIS} tickSize={-9} tick={false} />
        <Legend
          content={() => <LegendBox />}
          layout="vertical"
          align="center"
          verticalAlign="middle"
          wrapperStyle={{ left: 80, top: 21, width: 'auto' }}
        />
        <Scatter name="Scenario" data={scenarios} shape={dot(2.8, GRAY)} isAnimationActive={false} />
        {ellipses.map((e) => (
          <Scatter
            key={e.name}
            name={e.name}
            data={outline(e)}
            shape={noShape}
            line={closedPath(e)}
            lineType="joint"
            legendType="none"
            isAnimationActive={false}
          />
        ))}
        <Scatter name="mv specks" data={toPts(mvSpecks)} shape={dot(2, '#ffffff')} legendType="none" isAnimationActive={false} />
        <Scatter name="maximin picks" data={toPts(maximinPicks)} shape={dot(2.7, MAGENTA)} legendType="none" isAnimationActive={false} />
        <Scatter name="maximax picks" data={toPts(maximaxPicks)} shape={dot(2.7, GREEN)} legendType="none" isAnimationActive={false} />
        <Scatter name="Hurwicz picks" data={toPts(hurwiczPicks)} shape={dot(2.7, RED)} legendType="none" isAnimationActive={false} />
      </ScatterChart>
    </div>
  )
}
